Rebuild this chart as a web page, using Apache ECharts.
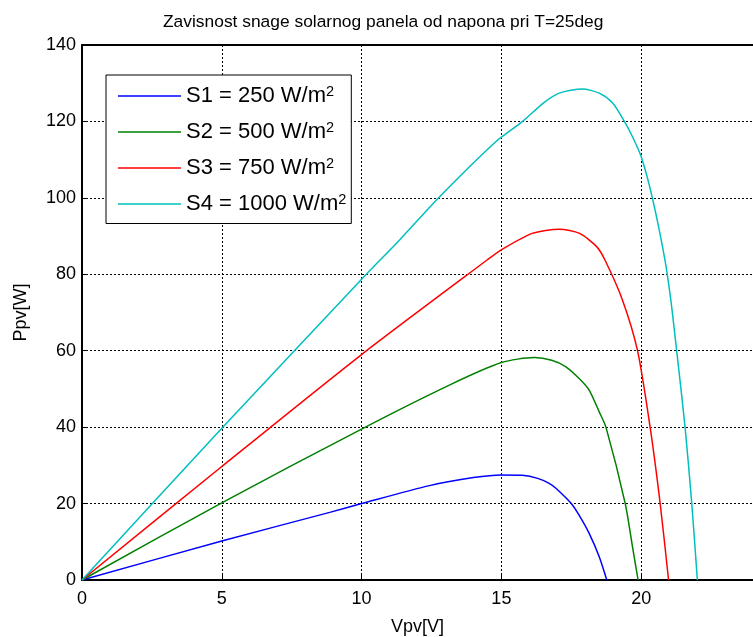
<!DOCTYPE html>
<html>
<head>
<meta charset="utf-8">
<script src="https://cdn.jsdelivr.net/npm/echarts@6/dist/echarts.min.js"></script>
<style>
html,body{margin:0;padding:0;background:#fff;overflow:hidden;}
#chart{width:753px;height:637px;}
</style>
</head>
<body>
<div id="chart"></div>
<script>
// ---- data ----
const titleText = 'Zavisnost snage solarnog panela od napona pri T=25deg';
const xLabel = 'Vpv[V]';
const yLabel = 'Ppv[W]';
const seriesNames = ['S1 = 250 W/m2', 'S2 = 500 W/m2', 'S3 = 750 W/m2', 'S4 = 1000 W/m2'];
const seriesColors = ['#0000ff', '#008000', '#ff0000', '#00bfbf'];

const s1V = [0, 5, 8.86, 10, 12.43, 14, 15, 15.75, 16.3, 16.71, 16.95, 17.5, 17.8, 18.14, 18.5, 18.77];
const s1P = [0, 10.2, 17.7, 20, 24.7, 26.8, 27.5, 27.4, 26.6, 25.3, 24, 20, 16.7, 12.2, 6.1, 0];

const s2V = [0, 5, 10, 13.14, 15, 16.18, 16.8, 17.31, 17.8, 18.14, 18.5, 18.74, 19.43, 19.69, 19.89];
const s2P = [0, 20.2, 39.5, 51, 56.9, 58.2, 57.5, 55.8, 52.6, 49.7, 44, 40, 20, 8.7, 0];

const s3V = [0, 5, 10, 14.5, 15, 16.1, 17.07, 17.8, 18.4, 18.7, 19.33, 19.87, 20.32, 20.68, 20.98];
const s3P = [0, 29.7, 59, 83.8, 86.4, 90.7, 91.8, 90.7, 87.3, 83.8, 73.3, 60, 40, 20, 0];

const s4V = [0, 5, 10, 11.36, 12.79, 14.8, 15.76, 16.5, 17.07, 17.9, 18.5, 18.98, 19.4, 19.69, 20, 20.4, 20.85, 21.06, 21.27, 21.57, 21.81, 22.01];
const s4P = [0, 39.7, 78.7, 89, 100.3, 114.7, 120, 124.8, 127.4, 128.5, 127.4, 124.8, 120, 116, 110.8, 100, 83.8, 73.3, 60, 40, 20, 0];

const xMin = 0, xMax = 24, xStep = 5;
const yMin = 0, yMax = 140, yStep = 20;

// ---- build ----
const allV = [s1V, s2V, s3V, s4V];
const allP = [s1P, s2P, s3P, s4P];
const FONT = 'Liberation Sans, Arial, Helvetica, sans-serif';

function pairs(v, p) { return v.map((x, i) => [x, p[i]]); }

const series = seriesNames.map((name, i) => ({
  name: name,
  type: 'line',
  data: pairs(allV[i], allP[i]),
  symbol: 'none',
  smooth: 0.25,
  lineStyle: { color: seriesColors[i], width: 1.5 },
  itemStyle: { color: seriesColors[i] },
  z: 5
}));

const chart = echarts.init(document.getElementById('chart'), null, { renderer: 'canvas', width: 753, height: 637 });
chart.setOption({
  animation: false,
  backgroundColor: '#fff',
  title: {
    text: titleText,
    left: 163,
    top: 14,
    padding: 0,
    textStyle: { fontFamily: FONT, fontSize: 17.4, fontWeight: 'normal', color: '#000' }
  },
  grid: { left: 82, top: 45, right: 0, bottom: 57, containLabel: false, outerBoundsMode: 'none' },
  legend: {
    orient: 'vertical',
    left: 106,
    top: 75,
    padding: [9, 5, 8.5, 12],
    icon: 'rect',
    itemWidth: 63,
    itemHeight: 1.5,
    itemGap: 13,
    borderColor: '#000',
    borderWidth: 1,
    backgroundColor: '#fff',
    data: seriesNames,
    formatter: function (n) { return n.replace(/m2$/, 'm{sup|2}'); },
    textStyle: {
      fontFamily: FONT, fontSize: 22, color: '#000',
      rich: { sup: { fontFamily: FONT, fontSize: 14.5, color: '#000', verticalAlign: 'top', padding: [0, 0, 9, 0] } }
    }
  },
  xAxis: [{
    type: 'value',
    min: xMin, max: xMax, interval: xStep,
    name: xLabel,
    nameLocation: 'middle',
    nameGap: 38,
    nameTextStyle: { fontFamily: FONT, fontSize: 18, color: '#000' },
    axisLine: { show: true, onZero: false, lineStyle: { color: '#000', width: 2 } },
    axisTick: { show: true, inside: true, length: 5, lineStyle: { color: '#000' } },
    axisLabel: {
      fontFamily: FONT, fontSize: 18, color: '#000', margin: 10,
      showMaxLabel: false,
      formatter: v => (v % xStep === 0 ? String(v) : '')
    },
    splitLine: { show: true, showMinLine: false, showMaxLine: false, lineStyle: { color: '#000', type: [2, 2], width: 1 } }
  }, {
    type: 'value',
    position: 'top',
    min: xMin, max: xMax, interval: xStep,
    axisLine: { show: true, onZero: false, lineStyle: { color: '#000', width: 2 } },
    axisTick: { show: false },
    axisLabel: { show: false },
    splitLine: { show: false }
  }],
  yAxis: {
    type: 'value',
    min: yMin, max: yMax, interval: yStep,
    name: yLabel,
    nameLocation: 'middle',
    nameGap: 52,
    nameTextStyle: { fontFamily: FONT, fontSize: 18, color: '#000' },
    axisLine: { show: true, onZero: false, lineStyle: { color: '#000', width: 2 } },
    axisTick: { show: true, inside: true, length: 5, lineStyle: { color: '#000' } },
    axisLabel: { fontFamily: FONT, fontSize: 18, color: '#000', margin: 6 },
    splitLine: { show: true, showMinLine: false, showMaxLine: false, lineStyle: { color: '#000', type: [2, 2], width: 1 } }
  },
  series: series
});
</script>
</body>
</html>
